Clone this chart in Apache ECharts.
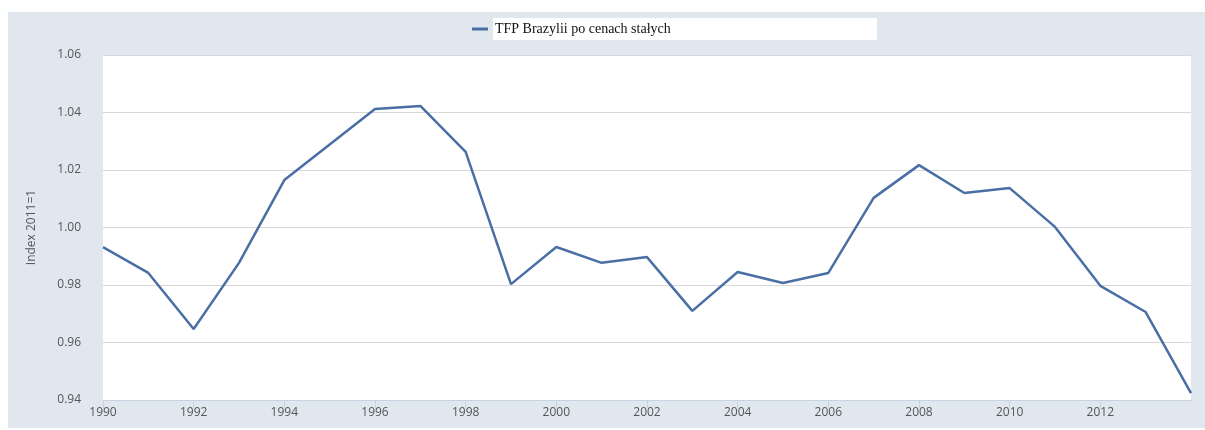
<!DOCTYPE html>
<html>
<head>
<meta charset="utf-8">
<style>
    html, body { margin: 0; padding: 0; background: #fff; }
    #chart { width: 1205px; height: 430px; }
</style>
<script src="https://cdn.jsdelivr.net/npm/echarts@6/dist/echarts.min.js"></script>
</head>
<body>
<div id="chart"></div>
<script>
// dane
var years = [1990, 1991, 1992, 1993, 1994, 1995, 1996, 1997, 1998, 1999, 2000, 2001,
    2002, 2003, 2004, 2005, 2006, 2007, 2008, 2009, 2010, 2011, 2012, 2013, 2014];
var tfp = [0.9932, 0.9842, 0.9647, 0.9877, 1.0165, 1.0289, 1.0412, 1.0423, 1.0263, 0.9803,
    0.9932, 0.9877, 0.9897, 0.9710, 0.9845, 0.9807, 0.9842, 1.0103, 1.0217, 1.0120,
    1.0137, 1.0002, 0.9797, 0.9706, 0.9424];
var seriesName = 'TFP Brazylii po cenach stałych';

(function () {
    var myCharts = echarts.init(document.getElementById('chart'));

    var points = years.map(function (y, i) {
        return [y, tfp[i]];
    });

    var option = {
        animation: false,
        // tło panelu
        graphic: [{
            type: 'rect',
            z: -10,
            shape: { x: 8, y: 12, width: 1197, height: 416 },
            style: { fill: '#e0e7ef' }
        }],
        legend: {
            left: 467,
            top: 13,
            itemWidth: 16,
            itemHeight: 3,
            icon: 'rect',
            data: [seriesName],
            textStyle: {
                fontFamily: 'Liberation Serif',
                fontSize: 14,
                color: '#111',
                backgroundColor: '#fff',
                width: 382,
                lineHeight: 14,
                padding: [4, 0, 4, 2]
            }
        },
        grid: {
            left: 103,
            right: 14,
            top: 55,
            bottom: 30,
            show: true,
            backgroundColor: '#fff',
            borderWidth: 0
        },
        xAxis: {
            type: 'value',
            min: 1990,
            max: 2014,
            interval: 2,
            splitLine: { show: false },
            axisLine: { lineStyle: { color: '#c5d3e3', width: 1 } },
            axisTick: { show: true, length: 8, lineStyle: { color: '#c5d3e3' } },
            axisLabel: {
                color: '#555',
                fontFamily: 'Open Sans',
                fontSize: 12,
                margin: 7,
                showMaxLabel: false,
                formatter: function (v) { return v === 2014 ? '' : String(v); }
            }
        },
        yAxis: {
            type: 'value',
            min: 0.94,
            max: 1.06,
            interval: 0.02,
            name: 'Index 2011=1',
            nameLocation: 'middle',
            nameGap: 65,
            nameTextStyle: { color: '#555', fontFamily: 'Open Sans', fontSize: 12 },
            axisLine: { show: false },
            axisTick: { show: false },
            axisLabel: {
                color: '#555',
                fontFamily: 'Open Sans',
                fontSize: 12,
                margin: 22,
                formatter: function (v) { return v.toFixed(2); }
            },
            splitLine: { lineStyle: { color: '#d8d8d8', width: 1 } }
        },
        series: [{
            name: seriesName,
            type: 'line',
            data: points,
            showSymbol: false,
            color: '#4a6fa5',
            lineStyle: { width: 2.5, color: '#4a6fa5' }
        }]
    };

    myCharts.setOption(option);
})();
</script>
</body>
</html>
